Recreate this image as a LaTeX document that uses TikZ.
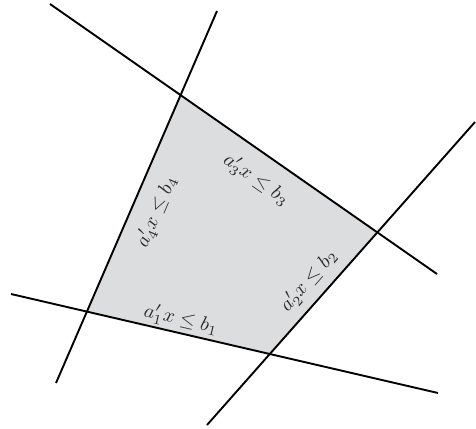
\documentclass[tikz,border=0pt]{standalone}
\usepackage{amsmath,amssymb}
\usepackage{xcolor}
\usetikzlibrary{positioning}

\definecolor{regiongray}{RGB}{220,221,223}
\definecolor{labelgray}{RGB}{40,40,40}

\begin{document}
\begin{tikzpicture}[x=0.5pt,y=-0.5pt,
    halfplane/.style={line width=0.95pt,black},
    constraint/.style={text=labelgray,inner sep=1pt}]
    \useasboundingbox (0,0) rectangle (476,428);

    % end points of the four lines
    \coordinate (l1a) at (11,294);  \coordinate (l1b) at (438,393);
    \coordinate (l2a) at (207,425); \coordinate (l2b) at (475,122);
    \coordinate (l3a) at (50,4);    \coordinate (l3b) at (437,274);
    \coordinate (l4a) at (217,11);  \coordinate (l4b) at (56,383);

    % corners of the feasible region
    \coordinate (top)    at (intersection of l3a--l3b and l4a--l4b);
    \coordinate (right)  at (intersection of l2a--l2b and l3a--l3b);
    \coordinate (bottom) at (intersection of l1a--l1b and l2a--l2b);
    \coordinate (left)   at (intersection of l1a--l1b and l4a--l4b);

    \fill[regiongray] (top) -- (right) -- (bottom) -- (left) -- cycle;

    \draw[halfplane] (l1a) -- (l1b);
    \draw[halfplane] (l2a) -- (l2b);
    \draw[halfplane] (l3a) -- (l3b);
    \draw[halfplane] (l4a) -- (l4b);

    \node[constraint,rotate=-13] (c1) at (181,320) {$a_1'x \le b_1$};
    \node[constraint,rotate=48.5] (c2) at (309,281) {$a_2'x \le b_2$};
    \node[constraint,rotate=-35] (c3) at (256,180) {$a_3'x \le b_3$};
    \node[constraint,rotate=66.6] (c4) at (157,212) {$a_4'x \le b_4$};
\end{tikzpicture}
\end{document}
